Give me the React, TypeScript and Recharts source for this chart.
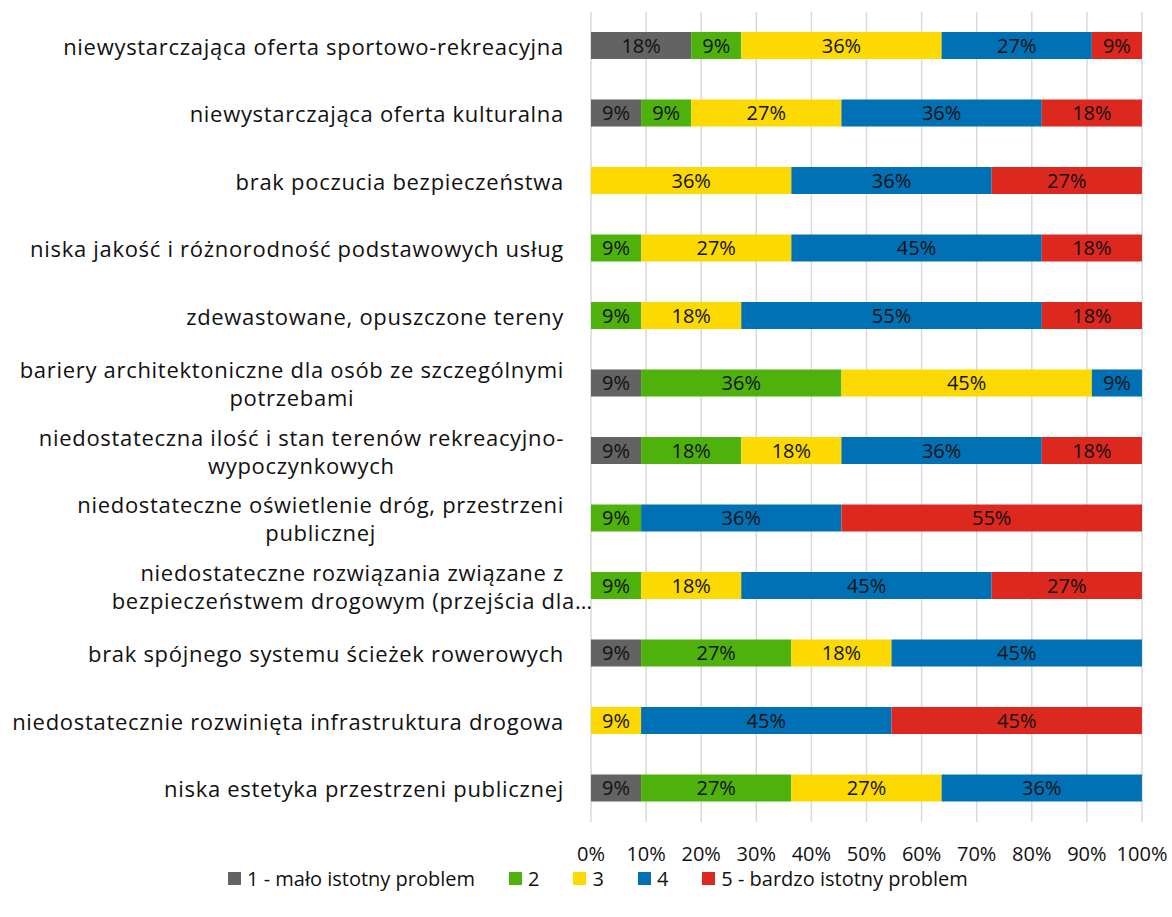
import React from "react";
import { BarChart, Bar, XAxis, YAxis, CartesianGrid, LabelList, Legend } from "recharts";

const categories = [
  "niewystarczająca oferta sportowo-rekreacyjna",
  "niewystarczająca oferta kulturalna",
  "brak poczucia bezpieczeństwa",
  "niska jakość i różnorodność podstawowych usług",
  "zdewastowane, opuszczone tereny",
  "bariery architektoniczne dla osób ze szczególnymi\npotrzebami",
  "niedostateczna ilość i stan terenów rekreacyjno-\nwypoczynkowych",
  "niedostateczne oświetlenie dróg, przestrzeni\npublicznej",
  "niedostateczne rozwiązania związane z\nbezpieczeństwem drogowym (przejścia dla…",
  "brak spójnego systemu ścieżek rowerowych",
  "niedostatecznie rozwinięta infrastruktura drogowa",
  "niska estetyka przestrzeni publicznej",
];

// share of answers (%) for each rating, same order as categories
const rating1 = [18.18, 9.09, 0, 0, 0, 9.09, 9.09, 0, 0, 9.09, 0, 9.09];
const rating2 = [9.09, 9.09, 0, 9.09, 9.09, 36.36, 18.18, 9.09, 9.09, 27.27, 0, 27.27];
const rating3 = [36.36, 27.27, 36.36, 27.27, 18.18, 45.45, 18.18, 0, 18.18, 18.18, 9.09, 27.27];
const rating4 = [27.27, 36.36, 36.36, 45.45, 54.55, 9.09, 36.36, 36.36, 45.45, 45.45, 45.45, 36.36];
const rating5 = [9.09, 18.18, 27.27, 18.18, 18.18, 0, 18.18, 54.55, 27.27, 0, 45.45, 0];

const xTicks = [0, 10, 20, 30, 40, 50, 60, 70, 80, 90, 100];

const series = [
  { key: "r1", name: "1 - mało istotny problem", color: "#636363" },
  { key: "r2", name: "2", color: "#4fb20c" },
  { key: "r3", name: "3", color: "#fcd900" },
  { key: "r4", name: "4", color: "#0071b5" },
  { key: "r5", name: "5 - bardzo istotny problem", color: "#dc281e" },
];

const data = categories.map((name, i) => ({
  name,
  r1: rating1[i],
  r2: rating2[i],
  r3: rating3[i],
  r4: rating4[i],
  r5: rating5[i],
}));

const FONT = "'Open Sans', sans-serif";
const FS = 20;
const CAT_FS = 22;
const CAT_LS = 0.7;

let ctx: CanvasRenderingContext2D | null = null;
function textWidth(s: string) {
  if (!ctx) ctx = document.createElement("canvas").getContext("2d");
  if (!ctx) return s.length * CAT_FS * 0.5;
  ctx.font = `${CAT_FS}px 'Open Sans'`;
  return ctx.measureText(s).width + s.length * CAT_LS;
}

function CategoryTick(props: any) {
  const { x, y, payload } = props;
  const lines: string[] = String(payload.value).split("\n");
  const right = x - 19;
  const common = {
    dominantBaseline: "central" as const,
    fontSize: CAT_FS,
    fontFamily: FONT,
    letterSpacing: CAT_LS,
    fill: "#111",
  };
  if (lines.length === 1) {
    return (
      <text x={right} y={y} textAnchor="end" {...common}>
        {lines[0]}
      </text>
    );
  }
  const cx = right - textWidth(lines[0]) / 2;
  return (
    <g>
      {lines.map((l, i) => (
        <text key={i} x={cx} y={y + (i - (lines.length - 1) / 2) * 28} textAnchor="middle" {...common}>
          {l}
        </text>
      ))}
    </g>
  );
}

function LegendContent() {
  return (
    <div style={{ display: "flex", alignItems: "center", paddingLeft: 228, fontFamily: FONT, fontSize: FS, color: "#111" }}>
      {series.map((s) => (
        <div key={s.key} style={{ display: "flex", alignItems: "center", marginRight: 34 }}>
          <span style={{ width: 13, height: 13, background: s.color, marginRight: 6, display: "inline-block" }} />
          <span>{s.name}</span>
        </div>
      ))}
    </div>
  );
}

const pct = (v: any) => (v ? `${Math.round(Number(v))}%` : "");

export default function App() {
  return (
    <div style={{ position: "absolute", left: 0, top: 0, background: "#fff" }}>
      <BarChart
        width={1172}
        height={917}
        data={data}
        layout="vertical"
        margin={{ top: 12, right: 30, left: 0, bottom: 20 }}
        barSize={27}
      >
        <CartesianGrid horizontal={false} stroke="#d9d9d9" strokeWidth={1.5} />
        <XAxis
          type="number"
          domain={[0, 100]}
          ticks={xTicks}
          tickFormatter={(v) => `${v}%`}
          axisLine={false}
          tickLine={false}
          tickMargin={19}
          height={43}
          tick={{ fontSize: FS, fontFamily: FONT, fill: "#111" }}
          interval={0}
        />
        <YAxis
          type="category"
          dataKey="name"
          width={591}
          axisLine={false}
          tickLine={false}
          tick={<CategoryTick />}
          interval={0}
        />
        <Legend verticalAlign="bottom" content={<LegendContent />} wrapperStyle={{ height: 32 }} />
        {series.map((s) => (
          <Bar key={s.key} dataKey={s.key} name={s.name} stackId="a" fill={s.color} isAnimationActive={false}>
            <LabelList dataKey={s.key} position="center" formatter={pct} fill="#111" fontSize={FS} fontFamily={FONT} />
          </Bar>
        ))}
      </BarChart>
    </div>
  );
}
